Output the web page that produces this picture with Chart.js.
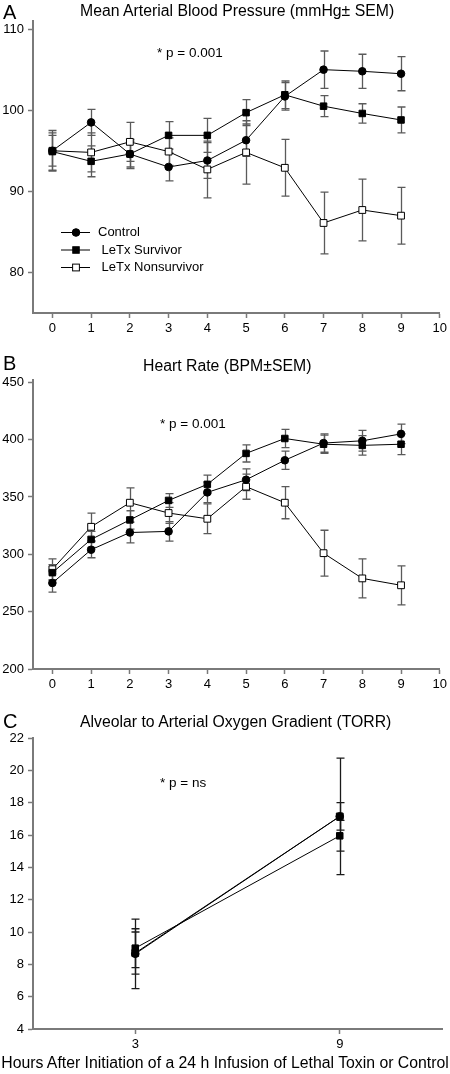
<!DOCTYPE html>
<html>
<head>
<meta charset="utf-8">
<script src="https://cdn.jsdelivr.net/npm/chart.js@4.4.0/dist/chart.umd.min.js"></script>
<style>
body { margin: 0; background: #fff; }
#page { position: relative; width: 450px; height: 1074px; overflow: hidden; font-family: "Liberation Sans", Arial, sans-serif; color: #000; }
canvas { position: absolute; left: 0; }
.txt { position: absolute; white-space: nowrap; line-height: 20px; }
.title { font-size: 15.8px; }
.note { font-size: 13.5px; }
.letter { font-size: 20px; left: 3px; }
</style>
</head>
<body>
<div id="page">
  <canvas id="mapChart" width="450" height="345" style="top:0"></canvas>
  <canvas id="hrChart" width="450" height="356" style="top:345px"></canvas>
  <canvas id="aaChart" width="450" height="360" style="top:701px"></canvas>

  <div class="txt letter" style="top:2px">A</div>
  <div class="txt title" style="left:80px; top:1px">Mean Arterial Blood Pressure (mmHg± SEM)</div>
  <div class="txt note" style="left:157px; top:43px">* p = 0.001</div>

  <div class="txt letter" style="top:353px">B</div>
  <div class="txt title" style="left:143px; top:356px">Heart Rate (BPM±SEM)</div>
  <div class="txt note" style="left:160px; top:414px">* p = 0.001</div>

  <div class="txt letter" style="top:711px">C</div>
  <div class="txt title" style="left:80px; top:712px">Alveolar to Arterial Oxygen Gradient (TORR)</div>
  <div class="txt note" style="left:160px; top:773px">* p = ns</div>

  <div class="txt" style="left:0; width:450px; text-align:center; top:1053px; font-size:15.8px">Hours After Initiation of a 24 h Infusion of Lethal Toxin or Control</div>
</div>

<script>
// Hours after start of infusion
const hours = [0, 1, 2, 3, 4, 5, 6, 7, 8, 9];
const hourTicks = [0, 1, 2, 3, 4, 5, 6, 7, 8, 9, 10];

// A: mean arterial pressure (mmHg)
const mapTicks = [80, 90, 100, 110];
const mapControl = [95.0, 98.5, 94.6, 93.0, 93.8, 96.3, 101.7, 105.0, 104.8, 104.5];
const mapControlSem = [2.5, 1.6, 1.8, 1.7, 2.2, 2.0, 1.7, 2.3, 2.1, 2.1];
const mapSurvivor = [94.9, 93.7, 94.6, 96.9, 96.9, 99.7, 101.9, 100.5, 99.6, 98.8];
const mapSurvivorSem = [2.3, 1.9, 1.6, 1.7, 2.1, 1.6, 1.7, 1.3, 1.2, 1.6];
const mapNonsurvivor = [95.0, 94.8, 96.1, 94.9, 92.7, 94.8, 92.9, 86.1, 87.7, 87.0];
const mapNonsurvivorSem = [1.9, 2.4, 2.4, 1.7, 3.5, 3.9, 3.5, 3.8, 3.8, 3.5];

// B: heart rate (BPM)
const hrTicks = [200, 250, 300, 350, 400, 450];
const hrControl = [275, 304, 319, 320, 354, 365, 382, 397, 399, 405];
const hrControlSem = [8, 7, 9, 8.5, 9, 9.5, 8, 8, 9, 8.5];
const hrSurvivor = [284, 313, 330, 347, 361, 388, 401, 396, 395, 396];
const hrSurvivorSem = [7, 7, 8, 6, 8, 7.5, 8, 8, 8.5, 9];
const hrNonsurvivor = [287, 324, 345, 336, 331, 359, 345, 301, 279, 273];
const hrNonsurvivorSem = [9, 12, 13, 9, 13, 11, 14, 20, 17, 17];

// C: A-a oxygen gradient (TORR)
const aaHours = [3, 9];
const aaTicks = [4, 6, 8, 10, 12, 14, 16, 18, 20, 22];
const aaControl = [8.65, 17.15];
const aaControlSem = [2.15, 3.6];
const aaSurvivor = [9.0, 15.95];
const aaSurvivorSem = [1.2, 0.95];
const aaNonsurvivor = [8.7, 17.15];
const aaNonsurvivorSem = [1.3, 0.85];

const legendLabels = ["Control", " LeTx Survivor", " LeTx Nonsurvivor"];

Chart.defaults.font.family = '"Liberation Sans", Arial, sans-serif';
Chart.defaults.font.size = 13;
Chart.defaults.color = '#000';

const axisColor = '#7a7a7a';

const markers = {
  control: { pointStyle: 'circle', pointRadius: 3.8, pointBackgroundColor: '#000', pointBorderColor: '#000' },
  survivor: { pointStyle: 'rect', pointRadius: 4.6, pointBackgroundColor: '#000', pointBorderColor: '#000' },
  nonsurvivor: { pointStyle: 'rect', pointRadius: 4.8, pointBackgroundColor: '#fff', pointBorderColor: '#000' }
};

function series(label, xs, ys, sem, marker, order) {
  return Object.assign({
    label: label,
    data: xs.map((x, i) => ({ x: x, y: ys[i] })),
    sem: sem,
    order: order,
    borderColor: '#000',
    borderWidth: 1,
    pointBorderWidth: 1,
    pointHoverRadius: 0,
    tension: 0
  }, marker);
}

function axis(ticks, min, max, isX) {
  return {
    type: 'linear',
    min: min,
    max: max,
    afterBuildTicks: s => { s.ticks = ticks.map(v => ({ value: v })); },
    afterFit: s => { if (isX) s.height = 32; else s.width = 33; },
    grid: { drawOnChartArea: false, drawTicks: true, tickLength: 5, tickColor: axisColor, tickWidth: 1.5 },
    border: { display: true, color: axisColor, width: 2 },
    ticks: { color: '#000', font: { size: 13 }, padding: isX ? 3 : 4, autoSkip: false, maxRotation: 0 }
  };
}

// SEM bars, drawn below the markers
const errorBars = {
  id: 'errorBars',
  beforeDatasetsDraw(chart, args, opts) {
    const ctx = chart.ctx;
    const y = chart.scales.y;
    ctx.save();
    ctx.strokeStyle = opts.color;
    ctx.lineWidth = opts.width;
    chart.data.datasets.forEach((ds, i) => {
      chart.getDatasetMeta(i).data.forEach((pt, j) => {
        const v = ds.data[j].y, e = ds.sem[j];
        const x = Math.round(pt.x) + 0.5;
        const top = y.getPixelForValue(v + e), bot = y.getPixelForValue(v - e);
        ctx.beginPath();
        ctx.moveTo(x, top); ctx.lineTo(x, bot);
        ctx.moveTo(x - 4, top); ctx.lineTo(x + 4, top);
        ctx.moveTo(x - 4, bot); ctx.lineTo(x + 4, bot);
        ctx.stroke();
      });
    });
    ctx.restore();
  }
};

// legend inside panel A
const innerLegend = {
  id: 'innerLegend',
  afterDatasetsDraw(chart, args, opts) {
    if (!opts.rows) return;
    const ctx = chart.ctx;
    ctx.save();
    chart.data.datasets.forEach((ds, i) => {
      const y = opts.rows[i];
      ctx.strokeStyle = '#000';
      ctx.lineWidth = 1;
      ctx.beginPath(); ctx.moveTo(61, y + 0.5); ctx.lineTo(90, y + 0.5); ctx.stroke();
      ctx.fillStyle = ds.pointBackgroundColor;
      const r = ds.pointRadius;
      if (ds.pointStyle === 'circle') {
        ctx.beginPath(); ctx.arc(76, y + 0.5, r, 0, Math.PI * 2); ctx.fill(); ctx.stroke();
      } else {
        const h = r / Math.SQRT2;
        ctx.fillRect(76 - h, y + 0.5 - h, 2 * h, 2 * h);
        ctx.strokeRect(76 - h, y + 0.5 - h, 2 * h, 2 * h);
      }
      ctx.fillStyle = '#000';
      ctx.font = '13px "Liberation Sans", Arial, sans-serif';
      ctx.textBaseline = 'middle';
      ctx.fillText(legendLabels[i], 98, y + 0.5);
    });
    ctx.restore();
  }
};

function makeChart(id, datasets, xAxis, yAxis, pad, barColor, rows) {
  return new Chart(document.getElementById(id), {
    type: 'line',
    data: { datasets: datasets },
    options: {
      responsive: false,
      animation: false,
      events: [],
      layout: { padding: { left: 0, right: 8, top: pad, bottom: 0 } },
      scales: { x: xAxis, y: yAxis },
      plugins: {
        legend: { display: false },
        tooltip: { enabled: false },
        errorBars: { color: barColor, width: 1.3 },
        innerLegend: { rows: rows }
      }
    },
    plugins: [errorBars, innerLegend]
  });
}

makeChart('mapChart', [
  series(legendLabels[0], hours, mapControl, mapControlSem, markers.control, 0),
  series(legendLabels[1], hours, mapSurvivor, mapSurvivorSem, markers.survivor, 1),
  series(legendLabels[2], hours, mapNonsurvivor, mapNonsurvivorSem, markers.nonsurvivor, 2)
], axis(hourTicks, -0.5, 10, true), axis(mapTicks, 75, 111, false), 21, '#5a5a5a', [232, 249.5, 267]);

makeChart('hrChart', [
  series(legendLabels[0], hours, hrControl, hrControlSem, markers.control, 0),
  series(legendLabels[1], hours, hrSurvivor, hrSurvivorSem, markers.survivor, 1),
  series(legendLabels[2], hours, hrNonsurvivor, hrNonsurvivorSem, markers.nonsurvivor, 2)
], axis(hourTicks, -0.5, 10, true), axis(hrTicks, 200, 452, false), 35, '#5a5a5a', null);

makeChart('aaChart', [
  series(legendLabels[0], aaHours, aaControl, aaControlSem, markers.control, 0),
  series(legendLabels[1], aaHours, aaSurvivor, aaSurvivorSem, markers.survivor, 1),
  series(legendLabels[2], aaHours, aaNonsurvivor, aaNonsurvivorSem, markers.nonsurvivor, 2)
], axis(aaHours, 0, 12, true), axis(aaTicks, 4, 22, false), 37, '#1a1a1a', null);
</script>
</body>
</html>
